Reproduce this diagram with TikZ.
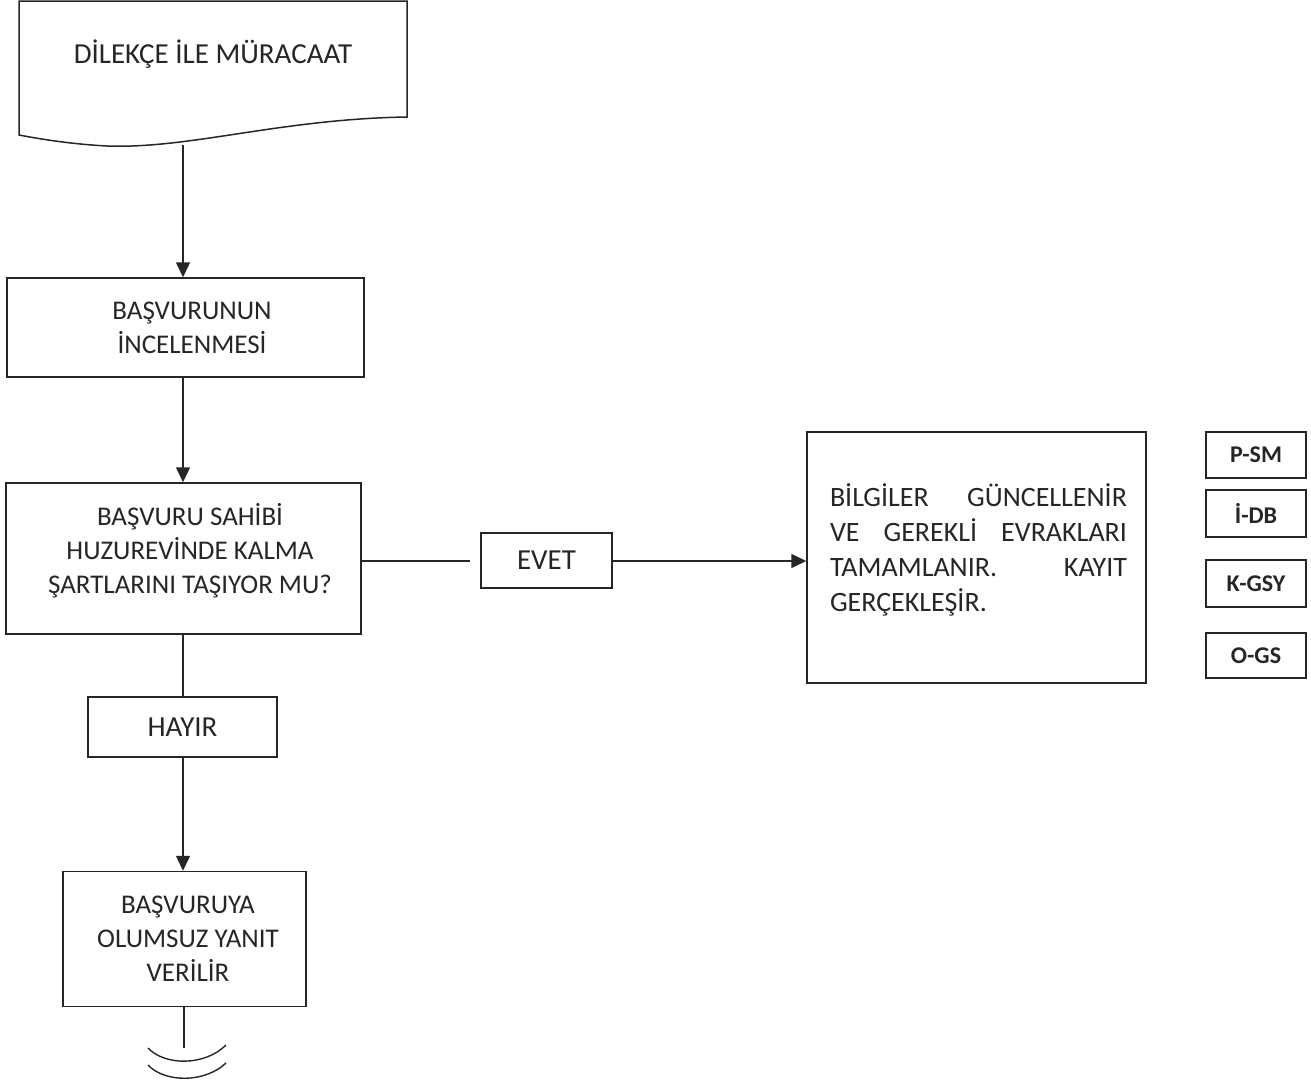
\documentclass[tikz,border=0pt]{standalone}
\usepackage{fontspec}
\setmainfont{Carlito}
\usetikzlibrary{arrows.meta}
\definecolor{ink}{HTML}{262626}
\begin{document}
\begin{tikzpicture}[x=1pt,y=-1pt,
  line width=1.5pt, draw=ink, text=ink,
  box/.style={draw=ink, line width=1.5pt, inner sep=0pt, align=center,
    font=\fontsize{27}{34}\selectfont},
  txt/.style={inner sep=0pt, align=center, font=\fontsize{27}{34}\selectfont},
  tag/.style={draw=ink, line width=1.3pt, inner sep=0pt, minimum width=100pt,
    font=\bfseries\fontsize{24}{28}\selectfont},
  flow/.style={draw=ink, line width=1.5pt, -{Triangle[length=15pt,width=14pt]}},
  plain/.style={draw=ink, line width=1.5pt}]
\useasboundingbox[fill=white] (0,0) rectangle (1311,1085);

% document shape
\draw[line width=1.5pt] (19,1) -- (407,1) -- (407,117)
  .. controls (280,119) and (190,149) .. (107,146)
  .. controls (70,144) and (40,139) .. (19,135) -- cycle;
\node[font=\fontsize{29}{34}\selectfont] (doc) at (213,54) {DİLEKÇE İLE MÜRACAAT};
\coordinate (docb) at (183,145);

\node[box, minimum width=357pt, minimum height=99pt] (inc) at (185.5,327.5) {};
\node[txt] (inct) at (192,328) {BAŞVURUNUN\\İNCELENMESİ};
\node[box, minimum width=355pt, minimum height=151pt] (q) at (183.5,558.5) {};
\node[txt] (qt) at (190,551) {BAŞVURU SAHİBİ\\HUZUREVİNDE KALMA\\ŞARTLARINI TAŞIYOR MU?};
\node[box, minimum width=131pt, minimum height=55pt,
  font=\fontsize{29}{34}\selectfont] (evet) at (546.5,560.5) {EVET};
\node[box, minimum width=189pt, minimum height=60pt,
  font=\fontsize{29}{34}\selectfont] (hayir) at (182.5,727) {HAYIR};
\node[box, minimum width=243pt, minimum height=135pt] (neg) at (184.5,939) {};
\node[txt] (negt) at (188,939) {BAŞVURUYA\\OLUMSUZ YANIT\\VERİLİR};
\node[draw=ink, line width=1.5pt, minimum width=339pt, minimum height=251pt,
  inner sep=0pt] (kayit) at (976.5,557.5) {};
\node[text width=297pt, align=left, inner sep=0pt,
  font=\fontsize{28}{35}\selectfont] (ktext) at (978.5,550)
  {BİLGİLER\hfill GÜNCELLENİR\\VE\hfill GEREKLİ\hfill EVRAKLARI\\TAMAMLANIR.\hfill KAYIT\\GERÇEKLEŞİR.};

\node[tag, minimum height=46pt] (psm) at (1256,455) {P-SM};
\node[tag, minimum height=47pt] (idb) at (1256,513.5) {İ-DB};
\node[tag, minimum height=47pt] (kgsy) at (1256,583.5) {K-GSY};
\node[tag, minimum height=45pt] (ogs) at (1256,655.5) {O-GS};

% connectors
\draw[flow] (docb) -- (docb |- inc.north);
\draw[flow] (inc.south -| 183,0) -- (q.north -| 183,0);
\draw[plain] (q.east |- 0,561) -- (470,561);
\draw[flow] (evet.east |- 0,561) -- (kayit.west |- 0,561);
\draw[plain] (q.south -| 183,0) -- (hayir.north -| 183,0);
\draw[flow] (hayir.south -| 183,0) -- (neg.north -| 183,0);

% terminator
\coordinate (endp) at (184,1048);
\draw[plain] (neg.south -| endp) -- (endp);
\draw[line width=1.4pt] (148,1048) .. controls (165,1066) and (205,1066) .. (226,1045);
\draw[line width=1.4pt] (148,1065) .. controls (165,1083) and (205,1083) .. (226,1063);
\end{tikzpicture}
\end{document}
